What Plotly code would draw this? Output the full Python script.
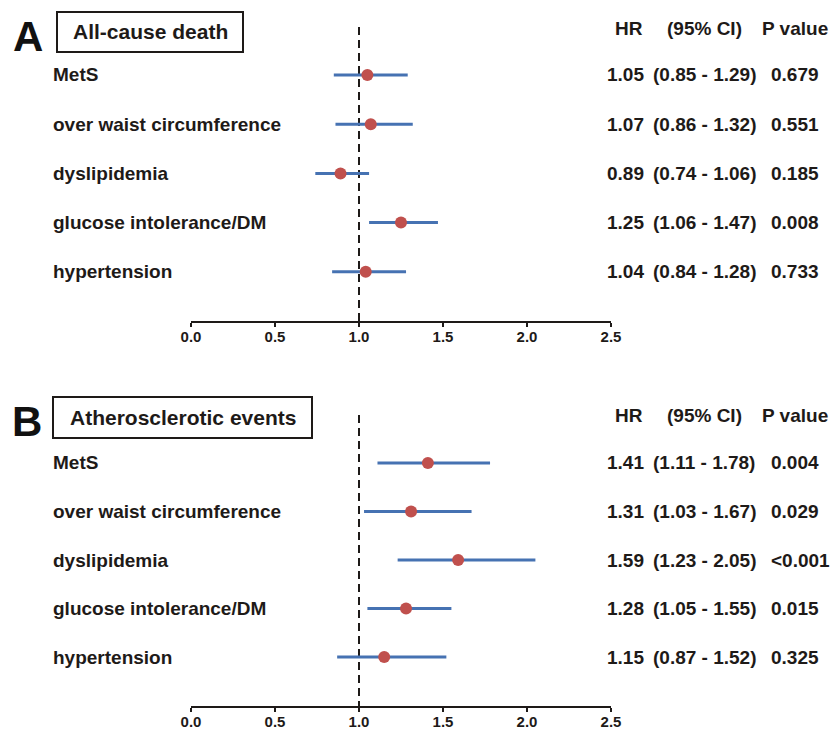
import plotly.graph_objects as go

W, H = 832, 729

categories = ["MetS", "over waist circumference", "dyslipidemia",
              "glucose intolerance/DM", "hypertension"]

# Panel A: All-cause death
hr_a = [1.05, 1.07, 0.89, 1.25, 1.04]
lo_a = [0.85, 0.86, 0.74, 1.06, 0.84]
hi_a = [1.29, 1.32, 1.06, 1.47, 1.28]
p_a = ["0.679", "0.551", "0.185", "0.008", "0.733"]

# Panel B: Atherosclerotic events
hr_b = [1.41, 1.31, 1.59, 1.28, 1.15]
lo_b = [1.11, 1.03, 1.23, 1.05, 0.87]
hi_b = [1.78, 1.67, 2.05, 1.55, 1.52]
p_b = ["0.004", "0.029", "<0.001", "0.015", "0.325"]

tick_vals = [0.0, 0.5, 1.0, 1.5, 2.0, 2.5]
tick_text = ["0.0", "0.5", "1.0", "1.5", "2.0", "2.5"]

BLUE = "#4672b2"
RED = "#c0504d"
INK = "#1e1a18"
FONT = "Liberation Sans"

def px(x):
    return x / W

def py(y):
    return 1 - y / H

fig = go.Figure()

panels = [
    dict(hr=hr_a, lo=lo_a, hi=hi_a, p=p_a, letter="A", title="All-cause death",
         row0=75, step=49.2, axis_y=321, top=27, head_y=28,
         box=(57, 12, 243, 52), letter_xy=(28, 36), xa="x", ya="y"),
    dict(hr=hr_b, lo=lo_b, hi=hi_b, p=p_b, letter="B", title="Atherosclerotic events",
         row0=463, step=48.5, axis_y=706, top=415, head_y=415,
         box=(53, 397, 312, 438), letter_xy=(27, 421), xa="x2", ya="y2"),
]

x0_px, x1_px = 191, 611
annotations = []
shapes = []
TXT_PAD = 2

for k, pn in enumerate(panels):
    rows = list(range(len(categories)))
    r_bottom = (pn["axis_y"] - pn["row0"]) / pn["step"]
    r_top = (pn["top"] - pn["row0"]) / pn["step"]
    err_plus = [h - m for h, m in zip(pn["hi"], pn["hr"])]
    err_minus = [m - l for m, l in zip(pn["hr"], pn["lo"])]
    fig.add_trace(go.Scatter(
        x=pn["hr"], y=rows, mode="markers",
        marker=dict(color=RED, size=12, line=dict(width=0)),
        error_x=dict(type="data", symmetric=False, array=err_plus,
                     arrayminus=err_minus, color=BLUE, thickness=3, width=0),
        xaxis=pn["xa"], yaxis=pn["ya"], showlegend=False, hoverinfo="skip"))
    ax_suffix = "" if k == 0 else "2"
    dom_y = [py(pn["axis_y"]), py(pn["top"])]
    fig.layout["xaxis" + ax_suffix] = dict(
        domain=[px(x0_px), px(x1_px)], range=[0, 2.5],
        anchor="y" + ax_suffix, showgrid=False, zeroline=False,
        showline=True, linecolor=INK, linewidth=2,
        ticks="outside", ticklen=4, tickwidth=2, tickcolor=INK,
        ticklabelstandoff=-3,
        tickvals=tick_vals, ticktext=tick_text,
        tickfont=dict(family=FONT, size=15, color=INK, weight="bold"),
        automargin=False, fixedrange=True)
    fig.layout["yaxis" + ax_suffix] = dict(
        domain=dom_y, range=[r_bottom, r_top], anchor="x" + ax_suffix,
        showgrid=False, zeroline=False, showline=False, showticklabels=False,
        ticks="", automargin=False, fixedrange=True)
    # reference dashed line at HR = 1
    shapes.append(dict(type="line", xref=pn["xa"], yref=pn["ya"],
                       x0=1, x1=1, y0=r_top, y1=r_bottom,
                       line=dict(color=INK, width=2, dash="8px,5px"), layer="below"))
    # title box
    bx0, by0, bx1, by1 = pn["box"]
    shapes.append(dict(type="rect", xref="paper", yref="paper",
                       x0=px(bx0), x1=px(bx1), y0=py(by1), y1=py(by0),
                       line=dict(color=INK, width=2), fillcolor="white"))
    annotations.append(dict(xref="paper", yref="paper",
                            x=px((bx0 + bx1) / 2), y=py((by0 + by1) / 2),
                            text=pn["title"], showarrow=False,
                            xanchor="center", yanchor="middle",
                            font=dict(family=FONT, size=21, color=INK, weight="bold")))
    lx, ly = pn["letter_xy"]
    annotations.append(dict(xref="paper", yref="paper", x=px(lx), y=py(ly),
                            text=pn["letter"], showarrow=False,
                            xanchor="center", yanchor="middle",
                            font=dict(family=FONT, size=42, color="#111111", weight="bold")))
    # headers
    for txt, hx in [("HR", 615), ("(95% CI)", 667), ("P value", 762)]:
        annotations.append(dict(xref="paper", yref="paper", x=px(hx - TXT_PAD), y=py(pn["head_y"]),
                                text=txt, showarrow=False, xanchor="left", yanchor="middle",
                                font=dict(family=FONT, size=19, color=INK, weight="bold")))
    # rows
    for i, cat in enumerate(categories):
        yy = py(pn["row0"] + i * pn["step"])
        annotations.append(dict(xref="paper", yref="paper", x=px(53 - TXT_PAD), y=yy,
                                text=cat, showarrow=False, xanchor="left", yanchor="middle",
                                font=dict(family=FONT, size=19, color=INK, weight="bold")))
        cols = [
            (f"{pn['hr'][i]:.2f}", 607),
            (f"({pn['lo'][i]:.2f} - {pn['hi'][i]:.2f})", 653),
            (pn["p"][i], 771),
        ]
        for txt, cx in cols:
            annotations.append(dict(xref="paper", yref="paper", x=px(cx - TXT_PAD), y=yy,
                                    text=txt, showarrow=False, xanchor="left", yanchor="middle",
                                    font=dict(family=FONT, size=19, color=INK, weight="bold")))

fig.update_layout(
    width=W, height=H, margin=dict(l=0, r=0, t=0, b=0, pad=0, autoexpand=False),
    paper_bgcolor="white", plot_bgcolor="white",
    shapes=shapes, annotations=annotations, showlegend=False)

fig.write_html(
    "out.html",
    config={"displayModeBar": False, "staticPlot": True},
    post_script="document.body.style.margin='0';document.body.style.overflow='hidden';",
)
